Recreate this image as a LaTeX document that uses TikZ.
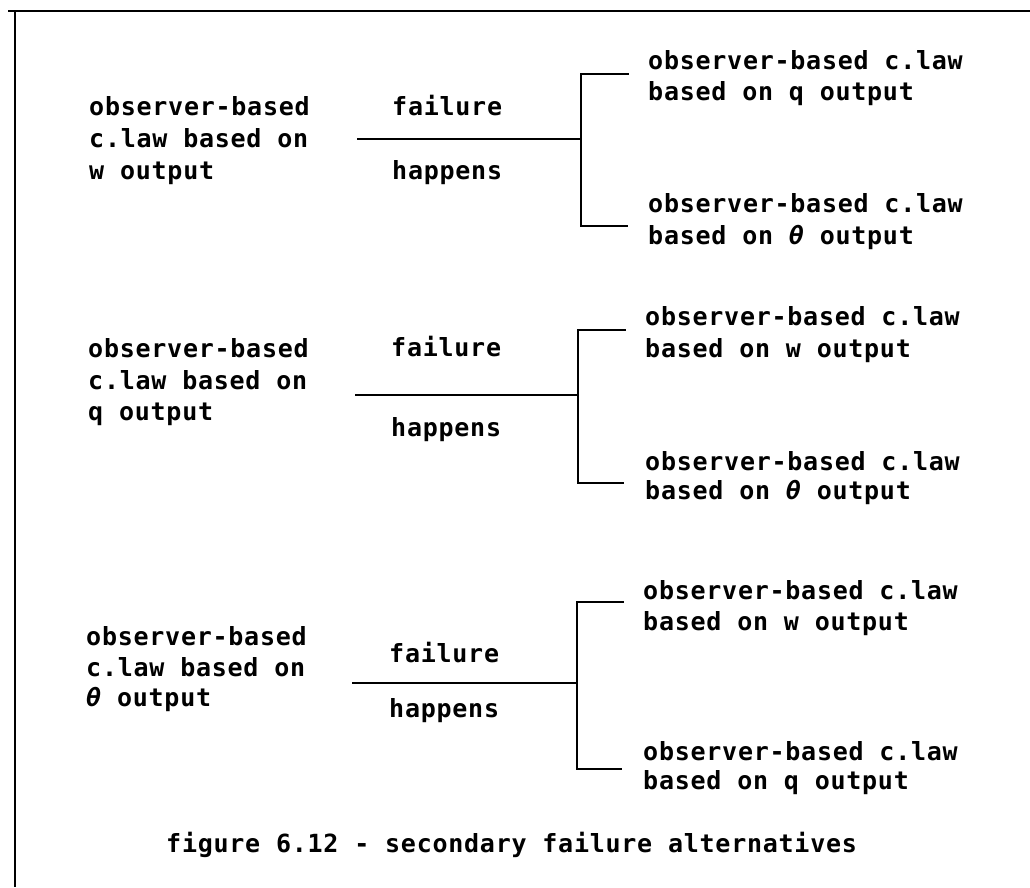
\documentclass[tikz,border=0pt]{standalone}
\usepackage{fontspec}
\setmonofont[LetterSpace=3.0,BoldFont={DejaVu Sans Mono Bold},BoldItalicFont={DejaVu Sans Mono Bold Oblique}]{DejaVu Sans Mono}
\newcommand{\thet}{{\itshape θ}}
\begin{document}
\begin{tikzpicture}[x=1pt,y=-1pt,
  txt/.style={anchor=base west,inner sep=0pt,font=\ttfamily\bfseries\fontsize{25}{31}\selectfont},
  ln/.style={line width=2.8pt,line cap=rect}]
\useasboundingbox[fill=white] (0,0) rectangle (1030,887);
% frame
\coordinate (fa) at (1030,11);
\coordinate (fb) at (8,11);
\coordinate (fc) at (15,11);
\coordinate (fd) at (15,887);
\draw[ln,line cap=butt] (fa) -- (fb);
\draw[ln,line cap=butt] (fc) -- (fd);

% ---------------- block 1
\node[txt] (l1a) at (89,115) {observer-based};
\node[txt] (l1b) at (89,147) {c.law based on};
\node[txt] (l1c) at (89,179) {w output};
\node[txt] (f1) at (392,115) {failure};
\node[txt] (h1) at (392,179) {happens};
\coordinate (s1) at (358,139);
\coordinate (j1) at (581,139);
\coordinate (t1) at (581,74);
\coordinate (t1e) at (628,74);
\coordinate (b1) at (581,226);
\coordinate (b1e) at (627,226);
\draw[ln] (s1) -- (j1);
\draw[ln] (t1e) -- (t1) -- (b1) -- (b1e);
\node[txt] (r1a) at (648,69) {observer-based c.law};
\node[txt] (r1b) at (648,100) {based on q output};
\node[txt] (r1c) at (648,212) {observer-based c.law};
\node[txt] (r1d) at (648,244) {based on \thet{} output};

% ---------------- block 2
\node[txt] (l2a) at (88,357) {observer-based};
\node[txt] (l2b) at (88,389) {c.law based on};
\node[txt] (l2c) at (88,420) {q output};
\node[txt] (f2) at (391,356) {failure};
\node[txt] (h2) at (391,436) {happens};
\coordinate (s2) at (356,395);
\coordinate (j2) at (578,395);
\coordinate (t2) at (578,330);
\coordinate (t2e) at (625,330);
\coordinate (b2) at (578,483);
\coordinate (b2e) at (623,483);
\draw[ln] (s2) -- (j2);
\draw[ln] (t2e) -- (t2) -- (b2) -- (b2e);
\node[txt] (r2a) at (645,325) {observer-based c.law};
\node[txt] (r2b) at (645,357) {based on w output};
\node[txt] (r2c) at (645,470) {observer-based c.law};
\node[txt] (r2d) at (645,499) {based on \thet{} output};

% ---------------- block 3
\node[txt] (l3a) at (86,645) {observer-based};
\node[txt] (l3b) at (86,676) {c.law based on};
\node[txt] (l3c) at (86,706) {\thet{} output};
\node[txt] (f3) at (389,662) {failure};
\node[txt] (h3) at (389,717) {happens};
\coordinate (s3) at (353,683);
\coordinate (j3) at (577,683);
\coordinate (t3) at (577,602);
\coordinate (t3e) at (623,602);
\coordinate (b3) at (577,769);
\coordinate (b3e) at (621,769);
\draw[ln] (s3) -- (j3);
\draw[ln] (t3e) -- (t3) -- (b3) -- (b3e);
\node[txt] (r3a) at (643,599) {observer-based c.law};
\node[txt] (r3b) at (643,630) {based on w output};
\node[txt] (r3c) at (643,760) {observer-based c.law};
\node[txt] (r3d) at (643,789) {based on q output};

% caption
\node[txt] (cap) at (166,852) {figure 6.12 - secondary failure alternatives};
\end{tikzpicture}
\end{document}
